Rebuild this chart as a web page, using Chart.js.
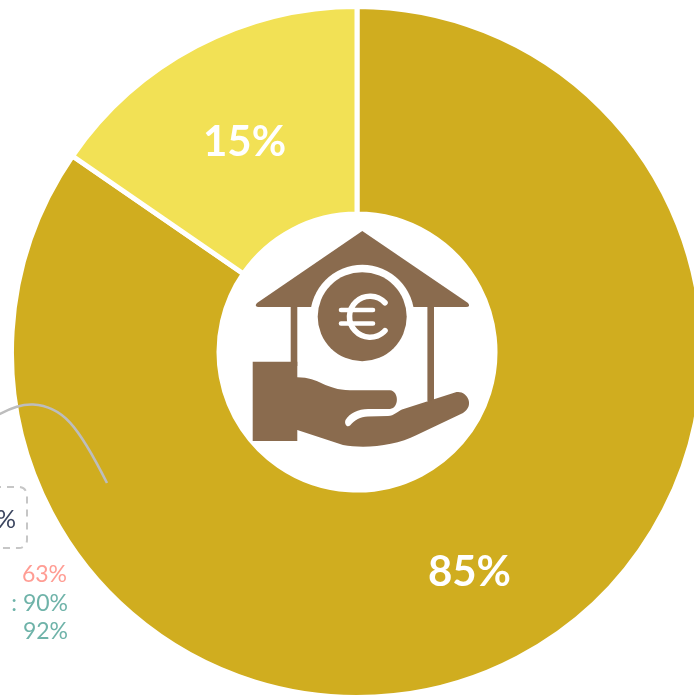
<!DOCTYPE html>
<html>
<head>
<meta charset="utf-8">
<style>
html,body{margin:0;padding:0;background:#fff;overflow:hidden;width:694px;height:696px}
canvas{position:absolute;left:0;top:0}
</style>
<script src="https://cdn.jsdelivr.net/npm/chart.js@4"></script>
</head>
<body>
<canvas id="c" width="714" height="704" style="width:714px;height:704px"></canvas>
<script>
const categories = ["Oui", "Non"];
const values = [84.6, 15.4];
const sliceColors = ["#d0ad1f", "#f2e155"];
const sideTexts = ["%", "63%", ": 90%", "92%"];
const FONT = 'Lato, "Open Sans", sans-serif';
const BROWN = "#8a6b4e";

const decor = {
  id: "decor",
  afterDraw(chart) {
    const ctx = chart.ctx;
    ctx.save();
    // center icon
    ctx.fillStyle = BROWN;
    ctx.fill(new Path2D("M362.3 231 L468 303 Q471 307 466 307 L258 307 Q254 306 257 303 Z"));
    ctx.fillStyle = "#fff";
    ctx.beginPath(); ctx.arc(362.3, 316.7, 52, 0, Math.PI * 2); ctx.fill();
    ctx.fillRect(297.3, 307, 130, 60);
    ctx.fillStyle = BROWN;
    ctx.beginPath(); ctx.arc(362.2, 316.7, 44.5, 0, Math.PI * 2); ctx.fill();
    ctx.fillRect(290.7, 306, 6.6, 60);
    ctx.fillRect(427.4, 306, 6.6, 95);
    ctx.fill(new Path2D("M252.7 361.7 L297.3 361.7 L297.3 377.3 C320 377.5 325 390 350 390.2 L390 390.3 C399 391 399.5 408 390 409 L368 409 C358 409 350 413 345.5 420 C344 424 347 428 350 425.5 C355 420 360 416.8 368 416.5 L388 416 C394 416 398 411 402 409.5 L455 392.5 C466 389 476 405 463 413 L416.7 435 C395 446 365 449 343 445 L297.3 430 L297.3 441 L252.7 441 Z"));
    // euro sign
    ctx.strokeStyle = "#fff";
    ctx.lineCap = "round";
    ctx.lineWidth = 5.6;
    ctx.beginPath(); ctx.arc(370, 316.7, 20.5, -0.75, 0.75, true); ctx.stroke();
    ctx.lineWidth = 4.6;
    ctx.beginPath(); ctx.moveTo(341, 310); ctx.lineTo(373, 310); ctx.moveTo(341, 323.5); ctx.lineTo(373, 323.5); ctx.stroke();
    ctx.lineCap = "butt";
    // slice labels
    ctx.fillStyle = "#fff";
    ctx.font = "bold 42px " + FONT;
    ctx.textAlign = "center";
    ctx.textBaseline = "middle";
    chart.getDatasetMeta(0).data.forEach((arc, i) => {
      const p = arc.getCenterPoint();
      ctx.fillText(Math.round(values[i]) + "%", p.x, p.y + (i === 0 ? 6 : 4));
    });
    // fragments from the neighbouring graphic
    ctx.strokeStyle = "#bdbdbd";
    ctx.lineWidth = 2.6;
    ctx.beginPath();
    ctx.moveTo(-2, 415);
    ctx.bezierCurveTo(12, 407, 22, 404, 33, 404.5);
    ctx.bezierCurveTo(62, 406, 78, 425, 107, 483);
    ctx.stroke();
    ctx.setLineDash([7, 6]);
    ctx.strokeStyle = "#c6c6c6";
    ctx.lineWidth = 2;
    ctx.beginPath();
    ctx.roundRect(-40, 487, 67, 61, 8);
    ctx.stroke();
    ctx.setLineDash([]);
    ctx.textAlign = "right";
    ctx.font = "25px " + FONT;
    ctx.fillStyle = "#3c4660";
    ctx.fillText(sideTexts[0], 16, 520);
    ctx.font = "23px " + FONT;
    ctx.fillStyle = "#ff9d94";
    ctx.fillText(sideTexts[1], 67, 575);
    ctx.fillStyle = "#6fb3a9";
    ctx.fillText(sideTexts[2], 68, 604);
    ctx.fillText(sideTexts[3], 68, 632);
    ctx.restore();
  }
};

new Chart(document.getElementById("c"), {
  type: "doughnut",
  data: {
    labels: categories,
    datasets: [{ data: values, backgroundColor: sliceColors, borderColor: "#fff", borderWidth: 5 }]
  },
  options: {
    responsive: false,
    animation: false,
    cutout: 138,
    layout: { padding: { left: 9, right: 9, top: 4, bottom: 4 } },
    plugins: { legend: { display: false }, tooltip: { enabled: false } }
  },
  plugins: [decor]
});
</script>
</body>
</html>
